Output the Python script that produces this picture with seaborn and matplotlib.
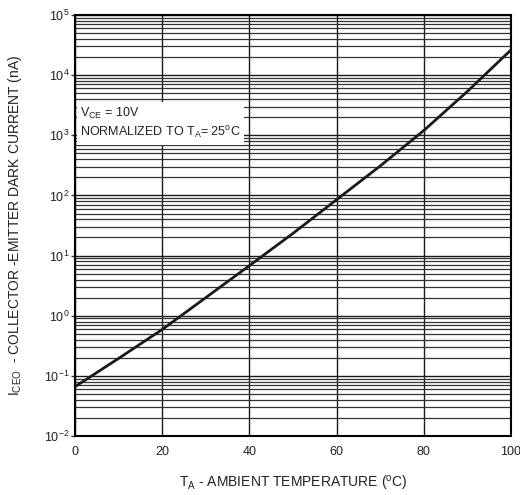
import numpy as np
import pandas as pd
import matplotlib
matplotlib.use("Agg")
import matplotlib.pyplot as plt
import seaborn as sns
from matplotlib.ticker import LogLocator, FixedLocator, NullFormatter

temps = [0, 10, 20, 30, 40, 50, 60, 70, 80, 90, 100]
current_nA = [0.066, 0.195, 0.59, 2.0, 6.8, 23.4, 85, 309, 1200, 5370, 26300]
x_ticks = [0, 20, 40, 60, 80, 100]

sns.set_style("white")
plt.rcParams['font.family'] = ['Liberation Sans', 'DejaVu Sans']
plt.rcParams['mathtext.default'] = 'regular'

df = pd.DataFrame({"T": temps, "I": current_nA})

fig = plt.figure(figsize=(5.2, 4.95), dpi=100)
ax = fig.add_axes([75/520, 1 - 436/495, 436/520, 421/495])

ax.set_yscale("log")
ax.set_xlim(0, 100)
ax.set_ylim(1e-2, 1e5)

# grid
ax.yaxis.set_major_locator(LogLocator(base=10, numticks=20))
ax.yaxis.set_minor_locator(LogLocator(base=10, subs=np.arange(2, 10), numticks=100))
ax.yaxis.set_minor_formatter(NullFormatter())
ax.xaxis.set_major_locator(FixedLocator(x_ticks))
ax.grid(True, which="major", axis="both", color="#1a1a1a", lw=1.0)
ax.grid(True, which="minor", axis="y", color="#333333", lw=0.9)
ax.set_axisbelow(True)

sns.lineplot(data=df, x="T", y="I", ax=ax, color="#1a1a1a", lw=2.0, zorder=5)

for s in ax.spines.values():
    s.set_color("black")
    s.set_linewidth(1.5)

ax.tick_params(axis="y", which="major", length=3, width=1, pad=1, labelsize=9, colors="#333333", labelcolor="#222222", left=True)
ax.tick_params(axis="y", which="minor", length=0)
ax.tick_params(axis="x", length=0, pad=7, labelsize=9, labelcolor="#222222")
ax.set_xticklabels([str(v) for v in x_ticks])

ax.set_xlabel("T$_A$ - AMBIENT TEMPERATURE ($^o$C)", fontsize=10, color="#222222", labelpad=12)
ax.set_ylabel("I$_{CEO}$  - COLLECTOR -EMITTER DARK CURRENT (nA)", fontsize=10, color="#222222", labelpad=14)

ax.text(0.012, 0.785, "V$_{CE}$ = 10V\nNORMALIZED TO T$_A$= 25$^o$C", transform=ax.transAxes,
        ha="left", va="top", fontsize=9, color="#222222", linespacing=1.4, zorder=6,
        bbox=dict(facecolor="white", edgecolor="none", pad=2.5))

fig.savefig("out.png", dpi=100)
